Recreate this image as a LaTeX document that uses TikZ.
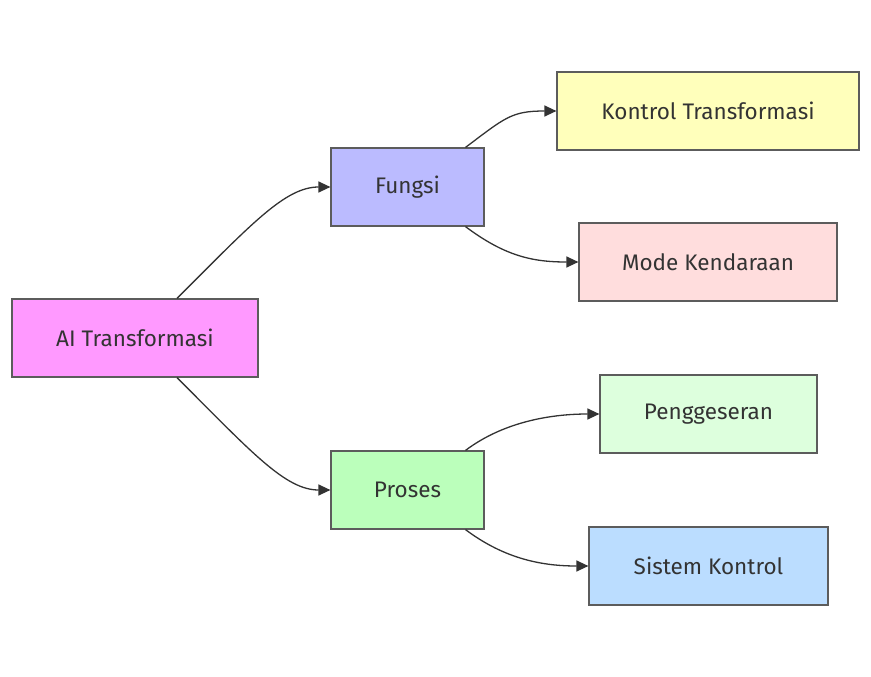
\documentclass[tikz,border=0pt]{standalone}
\usepackage{fontspec}
\setmainfont{Fira Sans}
\usetikzlibrary{arrows.meta}
\definecolor{edgegray}{HTML}{333333}
\tikzset{
  box/.style={draw=edgegray!80, line width=1.2pt, minimum height=78pt, inner sep=0pt,
    font=\fontsize{22.5}{27}\selectfont, text=edgegray},
  link/.style={draw=edgegray, line width=1.3pt, -{Triangle[length=12pt, width=11pt]}}
}
\begin{document}
\begin{tikzpicture}[x=1pt, y=-1pt]
      \useasboundingbox (0, 0) rectangle (871, 677);
      % nodes
      \node[box, fill={rgb,255:red,255;green,153;blue,255}, minimum width=246pt] (ai) at (135, 338) {AI Transformasi};
      \node[box, fill={rgb,255:red,187;green,187;blue,255}, minimum width=153pt] (fungsi) at (407.5, 187) {Fungsi};
      \node[box, fill={rgb,255:red,187;green,255;blue,187}, minimum width=153pt] (proses) at (407.5, 490) {Proses};
      \node[box, fill={rgb,255:red,255;green,255;blue,187}, minimum width=302pt] (kontrol) at (708, 111) {Kontrol Transformasi};
      \node[box, fill={rgb,255:red,255;green,221;blue,221}, minimum width=258pt] (mode) at (708, 262) {Mode Kendaraan};
      \node[box, fill={rgb,255:red,221;green,255;blue,221}, minimum width=217pt] (geser) at (708.5, 414) {Penggeseran};
      \node[box, fill={rgb,255:red,187;green,221;blue,255}, minimum width=239pt] (sistem) at (708.5, 566) {Sistem Kontrol};
      % lines
      \draw[link] ([xshift=42pt]ai.north) .. controls +(75, -75) and +(-45, 0) .. (fungsi.west);
      \draw[link] ([xshift=42pt]ai.south) .. controls +(75, 75) and +(-45, 0) .. (proses.west);
      \draw[link] ([xshift=58pt]fungsi.north) .. controls +(40, -30) and +(-45, 0) .. (kontrol.west);
      \draw[link] ([xshift=58pt]fungsi.south) .. controls +(40, 30) and +(-45, 0) .. (mode.west);
      \draw[link] ([xshift=58pt]proses.north) .. controls +(40, -30) and +(-45, 0) .. (geser.west);
      \draw[link] ([xshift=58pt]proses.south) .. controls +(40, 30) and +(-45, 0) .. (sistem.west);
\end{tikzpicture}
\end{document}
